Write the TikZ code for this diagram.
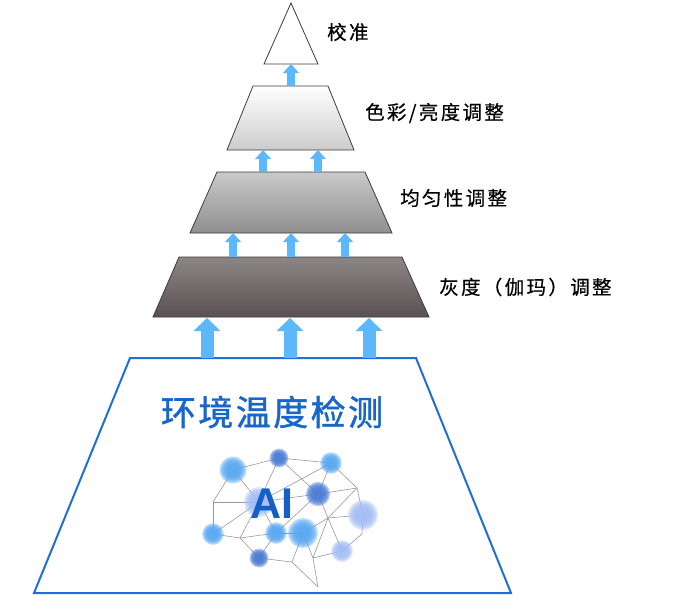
\documentclass[tikz,border=0pt]{standalone}
\usepackage{fontspec}
\setmainfont{Liberation Sans}
\newfontfamily\cjk[LetterSpace=12,FakeBold=0.4]{Noto Sans CJK SC}
\newfontfamily\cjktitle[LetterSpace=7,FakeBold=1.2]{Noto Sans CJK SC}
\usetikzlibrary{arrows.meta}
\definecolor{arrowblue}{HTML}{5CB8FA}
\definecolor{titleblue}{HTML}{1766CC}
\definecolor{aiblue}{HTML}{1560C8}
\definecolor{baseblue}{HTML}{1F6FD6}
\definecolor{tierline}{HTML}{3C3C3C}
\definecolor{nodemid}{HTML}{58A8F2}
\definecolor{nodedark}{HTML}{4A7CD4}
\definecolor{nodelight}{HTML}{A4BEF5}
\definecolor{edgegray}{HTML}{9A9A9A}
\newcommand\blob[4]{%
  \foreach \k in {1.35,1.2,1.05,0.9,0.75,0.6}
    \fill[#4,opacity=0.4] (#1,#2) circle[radius={#3*\k*1pt}];}
\tikzset{
  tier/.style={draw=tierline, line width=0.8pt},
  label/.style={anchor=west, inner sep=0pt, font=\cjk\fontsize{19.5}{20}\selectfont, text=black},
  bigarrow/.style={draw=arrowblue, line width=13pt, -{Triangle[width=27pt,length=13pt,line width=0pt]}},
  smallarrow/.style={draw=arrowblue, line width=8pt, -{Triangle[width=16pt,length=9pt,line width=0pt]}},
  brainedge/.style={draw=edgegray, line width=0.6pt},
}
\begin{document}
\begin{tikzpicture}[x=1pt,y=-1pt]
\useasboundingbox (0,0) rectangle (680,600);
% tiers
\draw[tier, fill=white] (291,3) -- (318,64) -- (264,64) -- cycle;
\draw[tier, top color=white, bottom color=black!20] (253,86) -- (328,86) -- (354,150) -- (227,150) -- cycle;
\draw[tier, top color=black!21!white, bottom color=black!44!white] (217,172) -- (365,172) -- (392,233) -- (190,233) -- cycle;
\draw[tier, top color={rgb,255:red,140;green,133;blue,133}, bottom color={rgb,255:red,90;green,82;blue,82}] (179,257) -- (402,257) -- (429,317) -- (153,317) -- cycle;
\draw[draw=baseblue, line width=2pt, fill=white] (130,358) -- (416,358) -- (511,593) -- (34,593) -- cycle;
% arrow end points
\coordinate (a0s) at (291,86);  \coordinate (a0e) at (291,64);
\coordinate (a1s) at (263,172); \coordinate (a1e) at (263,150);
\coordinate (a2s) at (318,172); \coordinate (a2e) at (318,150);
\coordinate (a3s) at (233,257); \coordinate (a3e) at (233,233);
\coordinate (a4s) at (291,257); \coordinate (a4e) at (291,233);
\coordinate (a5s) at (345,257); \coordinate (a5e) at (345,233);
\coordinate (a6s) at (207,358); \coordinate (a6e) at (207,318);
\coordinate (a7s) at (290,358); \coordinate (a7e) at (290,318);
\coordinate (a8s) at (369,358); \coordinate (a8e) at (369,318);
\foreach \i in {0,...,5} \draw[smallarrow] (a\i s) -- (a\i e);
\foreach \i in {6,7,8} \draw[bigarrow] (a\i s) -- (a\i e);
% labels
\node[label] (l1) at (327,32) {校准};
\node[label] (l2) at (365,113) {色彩/亮度调整};
\node[label] (l3) at (400,198) {均匀性调整};
\node[label] (l4) at (439,287) {灰度（伽玛）调整};
\node[inner sep=0pt, text=titleblue, font=\cjktitle\fontsize{35}{36}\selectfont] (title) at (272,412) {环境温度检测};
% brain network
\coordinate (n1) at (233,470);
\coordinate (n2) at (279,458);
\coordinate (n3) at (331,463);
\coordinate (n4) at (259,502);
\coordinate (n5) at (318,494);
\coordinate (n6) at (363,515);
\coordinate (n7) at (213,534);
\coordinate (n8) at (276,533);
\coordinate (n9) at (303,533);
\coordinate (n10) at (342,551);
\coordinate (n11) at (259,558);
\coordinate (v1) at (213,502);
\coordinate (v2) at (240,538);
\coordinate (v3) at (292,562);
\coordinate (v4) at (313,558);
\coordinate (v5) at (318,587);
\coordinate (v6) at (357,488);
\coordinate (v7) at (362,534);
\coordinate (v8) at (328,518);
\foreach \a/\b in {n1/n2, n2/n3, n3/v6, n1/v1, n1/n4, n2/n4, n2/n5, n3/n4, n3/n5, v1/n4, v1/n7,
  n7/n4, n7/v2, v2/n4, v2/n8, v2/n11, n4/n8, n8/n9, n8/n11, n4/n5, n5/v6, n8/n5, n9/v8,
  v8/n6, v8/n10, v6/n6, v6/v8, n6/v7, v7/n10, v4/n10, v3/n11, v3/n9, v3/v5, v4/v5, n9/v4, v8/v4, n5/v8}
  \draw[brainedge] (\a) -- (\b);
\blob{233}{470}{10}{nodemid}
\blob{279}{458}{7}{nodedark}
\blob{331}{463}{8}{nodemid}
\blob{259}{502}{11}{nodelight}
\blob{318}{494}{9}{nodedark}
\blob{363}{515}{11}{nodelight}
\blob{213}{534}{8}{nodemid}
\blob{276}{533}{8}{nodemid}
\blob{303}{533}{11}{nodemid}
\blob{342}{551}{8}{nodelight}
\blob{259}{558}{7}{nodedark}
\node[inner sep=0pt, text=aiblue, font=\fontsize{43}{43}\selectfont\bfseries] (ai) at (272,504) {AI};
\end{tikzpicture}
\end{document}
